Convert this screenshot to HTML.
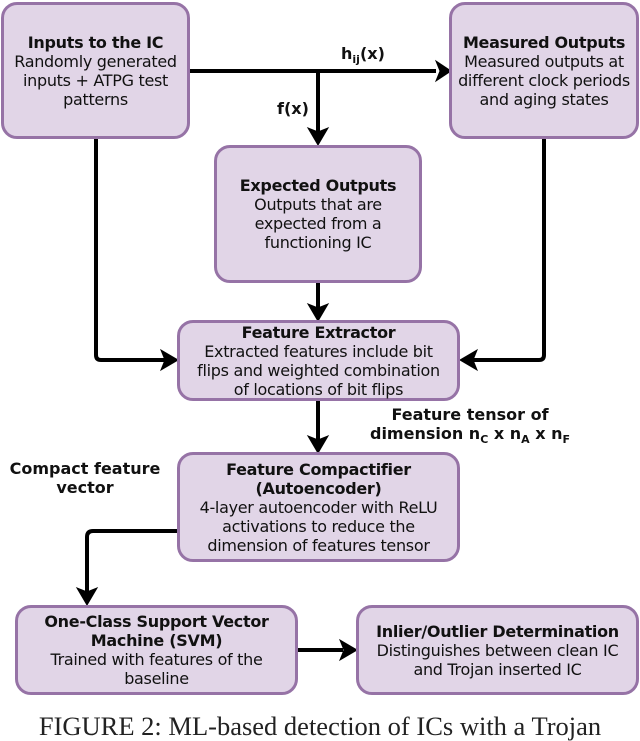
<!DOCTYPE html>
<html><head><style>
body{margin:0;width:640px;height:726px;overflow:hidden;background:#fff;position:relative;font-family:"DejaVu Sans",sans-serif;}
.b{position:absolute;box-sizing:border-box;background:#e1d5e7;border:3px solid #9673a6;border-radius:16px;display:flex;flex-direction:column;justify-content:center;align-items:center;text-align:center;font-size:16px;line-height:19px;color:#111;white-space:nowrap;letter-spacing:-0.3px}
.b b{font-weight:bold}
.l{position:absolute;font-weight:bold;font-size:16px;line-height:19px;color:#111;text-align:center;white-space:nowrap}
svg{position:absolute;left:0;top:0}
.cap{position:absolute;left:0;width:640px;top:711px;text-align:center;font-family:"Liberation Serif",serif;font-size:26.5px;line-height:30px;color:#222;white-space:nowrap}
</style></head><body>
<svg width="640" height="726">
<g stroke="#000" stroke-width="4" fill="none">
<path d="M190,71 H436"/><path d="M436,61 L451,71 L436,81 L440,71z" fill="#000" stroke-width="1"/>
<path d="M318,71 V132"/><path d="M308,128 L318,145 L328,128 L318,132z" fill="#000" stroke-width="1"/>
<path d="M318,283 V308"/><path d="M308,304 L318,321 L328,304 L318,308z" fill="#000" stroke-width="1"/>
<path d="M96,139 V355 Q96,360 101,360 H165"/><path d="M161,350 L178,360 L161,370 L165,360z" fill="#000" stroke-width="1"/>
<path d="M544,139 V355 Q544,360 539,360 H473"/><path d="M477,350 L460,360 L477,370 L473,360z" fill="#000" stroke-width="1"/>
<path d="M318,401 V440"/><path d="M308,436 L318,453 L328,436 L318,440z" fill="#000" stroke-width="1"/>
<path d="M177,531 H93 Q87,531 87,537 V592"/><path d="M77,588 L87,605 L97,588 L87,592z" fill="#000" stroke-width="1"/>
<path d="M298,650 H343"/><path d="M340,640 L357,650 L340,660 L344,650z" fill="#000" stroke-width="1"/>
</g>
</svg>
<div class="b" style="left:1px;top:2px;width:189px;height:137px"><b>Inputs to the IC</b>Randomly generated<br>inputs + ATPG test<br>patterns</div>
<div class="b" style="left:449px;top:2px;width:190px;height:137px"><b>Measured Outputs</b>Measured outputs at<br>different clock periods<br>and aging states</div>
<div class="b" style="left:214px;top:145px;width:208px;height:138px"><b>Expected Outputs</b>Outputs that are<br>expected from a<br>functioning IC</div>
<div class="b" style="left:177px;top:320px;width:283px;height:81px"><b>Feature Extractor</b>Extracted features include bit<br>flips and weighted combination<br>of locations of bit flips</div>
<div class="b" style="left:177px;top:452px;width:283px;height:110px"><b>Feature Compactifier<br>(Autoencoder)</b>4-layer autoencoder with ReLU<br>activations to reduce the<br>dimension of features tensor</div>
<div class="b" style="left:15px;top:605px;width:283px;height:90px"><b>One-Class Support Vector<br>Machine (SVM)</b>Trained with features of the<br>baseline</div>
<div class="b" style="left:356px;top:605px;width:283px;height:90px"><b>Inlier/Outlier Determination</b>Distinguishes between clean IC<br>and Trojan inserted IC</div>
<div class="l" style="left:341px;top:44px">h<sub style="font-size:11px">ij</sub>(x)</div>
<div class="l" style="left:277px;top:99px">f(x)</div>
<div class="l" style="left:360px;top:405px;width:220px">Feature tensor of<br>dimension n<sub style="font-size:11px">C</sub> x n<sub style="font-size:11px">A</sub> x n<sub style="font-size:11px">F</sub></div>
<div class="l" style="left:0px;top:459px;width:170px">Compact feature<br>vector</div>
<div class="cap">FIGURE 2: ML-based detection of ICs with a Trojan</div>
</body></html>
